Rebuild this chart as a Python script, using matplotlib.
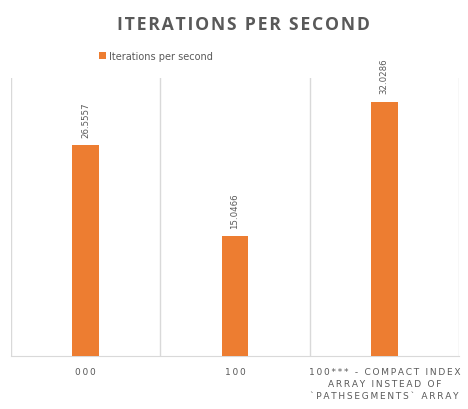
import matplotlib.pyplot as plt
import numpy as np

categories = ["000", "100", "100*** - COMPACT INDEX\nARRAY INSTEAD OF\n`PATHSEGMENTS` ARRAY"]
values = [26.5557, 15.0466, 32.0286]
value_labels = ["26.5557", "15.0466", "32.0286"]
series_name = "Iterations per second"
title = "ITERATIONS PER SECOND"

ORANGE = "#ED7D31"
TEXT = "#595959"
GRID = "#D9D9D9"


def spaced(s, sep="\u200a"):
    # fake Excel letter spacing
    return "\n".join(sep.join(line) for line in s.split("\n"))


fig = plt.figure(figsize=(4.68, 4.10), dpi=100)
ax = fig.add_axes([11 / 468, 53 / 410, 448 / 468, 278 / 410])

x = np.arange(len(categories))
bars = ax.bar(x, values, width=0.18, color=ORANGE, zorder=3, label=series_name)

ax.set_xlim(-0.5, len(categories) - 0.5)
ax.set_ylim(0, 35)

# category separators
for b in np.arange(-0.5, len(categories), 1.0):
    ax.axvline(b, color=GRID, lw=1, zorder=1)

for s in ["top", "left", "right"]:
    ax.spines[s].set_visible(False)
ax.spines["bottom"].set_color(GRID)
ax.set_yticks([])
ax.set_xticks(x)
ax.set_xticklabels([spaced(c, "\u2009") for c in categories], fontsize=6.5, color=TEXT,
                   linespacing=1.45)
ax.tick_params(axis="x", length=0, pad=8)

for xi, v, lab in zip(x, values, value_labels):
    ax.annotate(lab, (xi, v), xytext=(0, 6), textcoords="offset points",
                rotation=90, ha="center", va="bottom", fontsize=6.2, color=TEXT)

fig.text(243 / 468, 1 - 25 / 410, spaced(title, "\u200a"), ha="center", va="center",
         fontsize=12.7, fontweight="bold", color=TEXT, family=["Open Sans", "DejaVu Sans"])

ax.legend(loc="center left", bbox_to_anchor=(84 / 448, 1 + 22 / 278),
          frameon=False, fontsize=7, labelcolor=TEXT, handlelength=0.7,
          handleheight=0.7, handletextpad=0.3, borderaxespad=0)

fig.savefig("out.png", dpi=100)
